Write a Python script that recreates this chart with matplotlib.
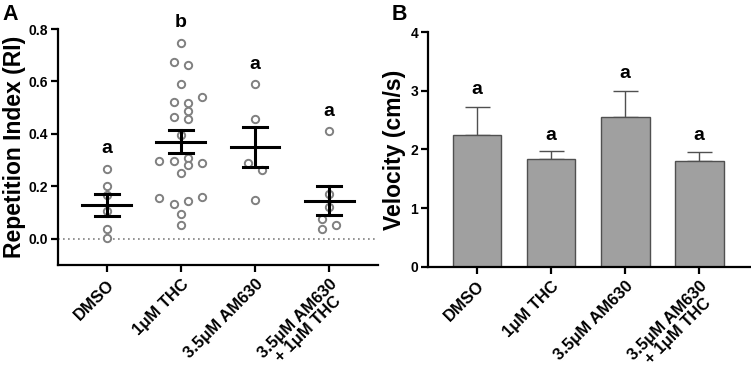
import numpy as np
import matplotlib
matplotlib.use('Agg')
import matplotlib.pyplot as plt

plt.rcParams['font.family'] = ['Liberation Sans', 'DejaVu Sans']
plt.rcParams['font.weight'] = 'bold'

groups = ['DMSO', '1\u03bcM THC', '3.5\u03bcM AM630', '3.5\u03bcM AM630\n+ 1\u03bcM THC']

# panel A - individual repetition index values (x offset in units of dot columns)
ri_dmso = [0.265, 0.203, 0.167, 0.106, 0.038, 0.003]
ri_dmso_off = [0, 0, 0, 0, 0, 0]
ri_thc = [0.746, 0.675, 0.661, 0.590, 0.523, 0.519, 0.541, 0.486, 0.465, 0.456,
          0.396, 0.295, 0.295, 0.309, 0.291, 0.280, 0.252, 0.156, 0.159, 0.132,
          0.143, 0.095, 0.053]
ri_thc_off = [0, -1, 1, 0, -1, 1, 3, 1, -1, 1,
              0, -3, -1, 1, 3, 1, 0, -3, 3, -1,
              1, 0, 0]
ri_am = [0.590, 0.458, 0.291, 0.262, 0.148]
ri_am_off = [0, 0, -1, 1, 0]
ri_combo = [0.410, 0.171, 0.120, 0.076, 0.038, 0.053]
ri_combo_off = [0, 0, 0, -1, -1, 1]

ri_mean = [0.130, 0.370, 0.351, 0.144]
ri_sem_lo = [0.087, 0.327, 0.272, 0.089]
ri_sem_hi = [0.172, 0.414, 0.428, 0.203]
ri_letters = ['a', 'b', 'a', 'a']
ri_letter_y = [0.345, 0.825, 0.665, 0.487]

# panel B - velocity
vel_mean = [2.25, 1.83, 2.55, 1.80]
vel_err = [0.47, 0.15, 0.45, 0.16]
vel_letters = ['a', 'a', 'a', 'a']
vel_letter_y = [3.03, 2.24, 3.29, 2.24]

fig = plt.figure(figsize=(7.51, 3.77), dpi=100)

# ---------------- panel A ----------------
axA = fig.add_axes([0.0772, 0.297, 0.4261, 0.626])
x = np.arange(len(groups))
dot_step = 0.097
all_vals = [ri_dmso, ri_thc, ri_am, ri_combo]
all_offs = [ri_dmso_off, ri_thc_off, ri_am_off, ri_combo_off]
for i, (vals, offs) in enumerate(zip(all_vals, all_offs)):
    xs = i + np.array(offs) * dot_step
    axA.scatter(xs, vals, s=28, facecolors='white', edgecolors='#808080',
                linewidths=1.4, zorder=2)

axA.axhline(0, color='#808080', linestyle=(0, (1, 2)), linewidth=1.2, zorder=1)
for i in range(len(groups)):
    axA.plot([i - 0.33, i + 0.33], [ri_mean[i]] * 2, color='black', lw=2.2, zorder=3)
    axA.plot([i, i], [ri_sem_lo[i], ri_sem_hi[i]], color='black', lw=2.2, zorder=3)
    axA.plot([i - 0.16, i + 0.16], [ri_sem_lo[i]] * 2, color='black', lw=2.2, zorder=3)
    axA.plot([i - 0.16, i + 0.16], [ri_sem_hi[i]] * 2, color='black', lw=2.2, zorder=3)
    axA.text(i, ri_letter_y[i], ri_letters[i], ha='center', va='center',
             fontsize=14, fontweight='bold')

axA.set_xlim(-0.66, 3.66)
axA.set_ylim(-0.1, 0.8)
axA.set_yticks([0.0, 0.2, 0.4, 0.6, 0.8])
axA.set_yticklabels(['0.0', '0.2', '0.4', '0.6', '0.8'])
axA.set_xticks(x)
axA.set_xticklabels(groups, rotation=45, ha='right', rotation_mode='anchor',
                    multialignment='center', fontsize=12, fontweight='bold',
                    linespacing=1.0)
axA.set_ylabel('Repetition Index (RI)', fontsize=16.5, fontweight='bold', labelpad=2)
axA.spines['top'].set_visible(False)
axA.spines['right'].set_visible(False)
axA.spines['left'].set_linewidth(1.6)
axA.spines['bottom'].set_linewidth(1.6)
axA.tick_params(axis='both', width=1.6, length=5)
axA.tick_params(axis='y', labelsize=10, pad=2)
fig.text(0.003, 0.99, 'A', fontsize=15.5, fontweight='bold', va='top', ha='left')

# ---------------- panel B ----------------
axB = fig.add_axes([0.570, 0.292, 0.43, 0.623])
axB.bar(x, vel_mean, width=0.66, color='#a0a0a0', edgecolor='#505050', linewidth=1.0, zorder=2)
axB.errorbar(x, vel_mean, yerr=[np.zeros(len(x)), vel_err], fmt='none',
             ecolor='#505050', elinewidth=1.0, capsize=9, capthick=1.0, zorder=1)
for i in range(len(groups)):
    axB.text(i, vel_letter_y[i], vel_letters[i], ha='center', va='center',
             fontsize=14, fontweight='bold')

axB.set_xlim(-0.66, 3.7)
axB.set_ylim(0, 4)
axB.set_yticks([0, 1, 2, 3, 4])
axB.set_xticks(x)
axB.set_xticklabels(groups, rotation=45, ha='right', rotation_mode='anchor',
                    multialignment='center', fontsize=12, fontweight='bold',
                    linespacing=1.0)
axB.set_ylabel('Velocity (cm/s)', fontsize=16.5, fontweight='bold', labelpad=3)
axB.spines['top'].set_visible(False)
axB.spines['right'].set_visible(False)
axB.spines['left'].set_linewidth(1.6)
axB.spines['bottom'].set_linewidth(1.6)
axB.tick_params(axis='both', width=1.6, length=5)
axB.tick_params(axis='y', labelsize=10, pad=2)
fig.text(0.522, 0.99, 'B', fontsize=15.5, fontweight='bold', va='top', ha='left')

fig.savefig('out.png', dpi=100)
